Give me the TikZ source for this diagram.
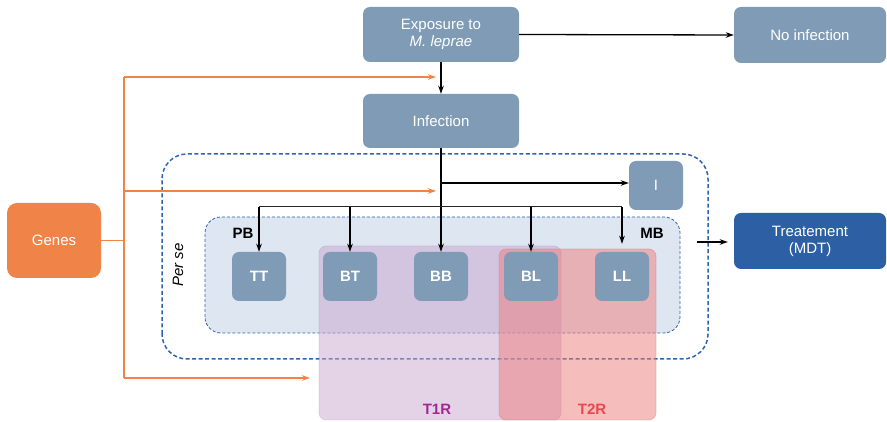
\documentclass[tikz,border=0pt]{standalone}
\usepackage{fontspec}
\setmainfont{Liberation Sans}
\usetikzlibrary{arrows.meta}
\definecolor{nodeblue}{HTML}{809BB6}
\definecolor{darkblue}{HTML}{2D5FA5}
\definecolor{genes}{HTML}{F08347}
\definecolor{dashblue}{HTML}{2E64B0}
\definecolor{innerfill}{HTML}{DEE6F1}
\definecolor{tonefill}{HTML}{C9A6D0}
\definecolor{ttwofill}{HTML}{EE7B7B}
\definecolor{tonetext}{HTML}{A3288C}
\definecolor{ttwotext}{HTML}{E8474E}
\begin{document}
\begin{tikzpicture}[x=1pt,y=1pt,
  font=\fontsize{15}{17}\selectfont,
  box/.style={fill=nodeblue,text=white,rounded corners=7pt,inner sep=0pt,align=center},
  small/.style={box,minimum width=54pt,minimum height=49pt,font=\fontsize{15}{17}\selectfont\bfseries},
  blk/.style={line width=1.3pt,-{Stealth[length=8pt,width=5.5pt]}},
  org/.style={genes,line width=1.2pt},
  orgarr/.style={org,-{Stealth[length=8pt,width=5.5pt]}}]
\useasboundingbox (0,0) rectangle (887,422);
% background regions
\draw[dashblue,line width=1.5pt,dash pattern=on 4pt off 2.5pt,rounded corners=25pt] (162,63) rectangle (708,268);
\draw[dashblue,fill=innerfill,line width=0.8pt,dash pattern=on 3pt off 2pt,rounded corners=16pt] (205,89) rectangle (680,205);
\fill[tonefill,fill opacity=0.5,rounded corners=7pt] (319,2) rectangle (561,176);
\draw[tonefill!80!black,opacity=0.25,line width=0.8pt,rounded corners=7pt] (319,2) rectangle (561,176);
\fill[ttwofill,fill opacity=0.5,rounded corners=7pt] (499,2) rectangle (656,173);
\draw[ttwofill!80!black,opacity=0.25,line width=0.8pt,rounded corners=7pt] (499,2) rectangle (656,173);
\node[text=tonetext,font=\fontsize{15}{17}\selectfont\bfseries] (t1r) at (437,13) {T1R};
\node[text=ttwotext,font=\fontsize{15}{17}\selectfont\bfseries] (t2r) at (592,13) {T2R};
\node[font=\fontsize{15}{17}\selectfont\bfseries] (pb) at (243,189) {PB};
\node[font=\fontsize{15}{17}\selectfont\bfseries] (mb) at (652,189) {MB};
\node[rotate=90,font=\fontsize{15}{17}\selectfont\itshape] (perse) at (178,157) {Per se};
% main nodes
\node[box,minimum width=156pt,minimum height=55pt] (exp) at (441,387.5) {Exposure to\\\textit{M. leprae}};
\node[box,minimum width=152pt,minimum height=56pt] (noinf) at (810,387) {No infection};
\node[box,minimum width=156pt,minimum height=54pt] (inf) at (441,301) {Infection};
\node[box,fill=genes,minimum width=94pt,minimum height=75pt,rounded corners=10pt] (genes) at (54,181.5) {Genes};
\node[small,font=\fontsize{15}{17}\selectfont] (I) at (656,236.5) {I};
\node[small] (TT) at (259,145.5) {TT};
\node[small] (BT) at (350,145.5) {BT};
\node[small] (BB) at (441,145.5) {BB};
\node[small] (BL) at (531,145.5) {BL};
\node[small] (LL) at (622,145.5) {LL};
\node[box,fill=darkblue,minimum width=152pt,minimum height=56pt] (treat) at (810,181) {Treatement\\(MDT)};
% black connectors
\draw[blk] (exp.east) -- (noinf.west);
\draw[blk] (exp.south) -- (inf.north);
\coordinate (j1) at (441,239);
\coordinate (bus) at (441,215);
\draw[line width=1.3pt] (inf.south) -- (bus);
\draw[blk] (j1) -- (I.west |- j1);
\draw[line width=1pt,black!85] (TT.north |- bus) -- (LL.north |- bus);
\draw[blk] (TT.north |- bus) -- (TT.north);
\draw[blk] (BT.north |- bus) -- (BT.north);
\draw[blk] (bus) -- (BB.north);
\draw[blk] (BL.north |- bus) -- (BL.north);
\draw[blk,shorten >=8pt] (LL.north |- bus) -- (LL.north);
\coordinate (tstart) at (697,180);
\draw[blk,shorten >=6pt] (tstart) -- (treat.west |- tstart);
% orange connectors
\coordinate (oj) at (124,181.5);
\coordinate (otop) at (124,345);
\coordinate (omid) at (124,231);
\coordinate (obot) at (124,44);
\coordinate (etop) at (436,345);
\coordinate (emid) at (436,231);
\coordinate (ebot) at (310,44);
\draw[org] (genes.east) -- (oj);
\draw[org] (otop) -- (obot);
\draw[orgarr] (otop) -- (etop);
\draw[orgarr] (omid) -- (emid);
\draw[orgarr] (obot) -- (ebot);
\end{tikzpicture}
\end{document}
